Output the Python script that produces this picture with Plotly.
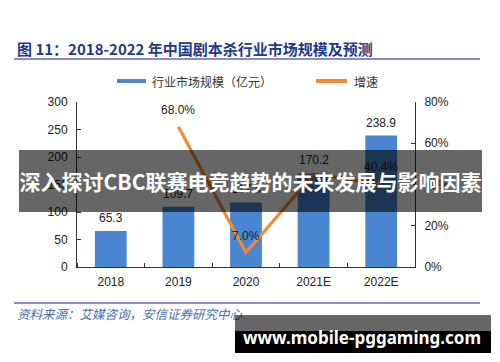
import plotly.graph_objects as go

categories = ["2018", "2019", "2020", "2021E", "2022E"]
market_size = [65.3, 109.7, 117.4, 170.2, 238.9]
growth = [None, 0.680, 0.070, 0.450, 0.404]
growth_labels = ["", "68.0%", "7.0%", "", "40.4%"]
size_ticks = [0, 50, 100, 150, 200, 250, 300]
growth_ticks = [0, 0.2, 0.4, 0.6, 0.8]
growth_tick_text = ["0%", "20%", "40%", "60%", "80%"]

title_text = "图 11：2018-2022 年中国剧本杀行业市场规模及预测"
legend_bar = "行业市场规模（亿元）"
legend_line = "增速"
source_text = "资料来源：艾媒咨询，安信证券研究中心"
banner_text = "深入探讨CBC联赛电竞趋势的未来发展与影响因素"
watermark_text = "www.mobile-pggaming.com"

xpos = list(range(len(categories)))
boundaries = [i - 0.5 for i in range(len(categories) + 1)]

BAR = "#4A85D1"
LINE = "#F28A2E"
OFF = 8  # page body margin
W, H = 500 - OFF, 362 - OFF
L, T = 77 - OFF, 102 - OFF
R = W - (415 - OFF)
B = H - (267 - OFF)
PW, PH = W - L - R, H - T - B


def fx(px):
    return (px - OFF - L) / PW


def fy(py):
    return (H - B - (py - OFF)) / PH


CJK = "Noto Sans CJK SC"
NUM = "Liberation Sans, Arial"

fig = go.Figure()
fig.add_trace(go.Bar(x=xpos, y=market_size, marker=dict(color=BAR, line=dict(width=0)),
                     name=legend_bar, yaxis="y"))
fig.add_trace(go.Scatter(x=xpos, y=growth, mode="lines", line=dict(color=LINE, width=3),
                         name=legend_line, yaxis="y2"))

ann = []
ann.append(dict(x=fx(15), y=fy(49), xref="paper", yref="paper", xanchor="left", yanchor="middle",
                text=title_text, showarrow=False,
                font=dict(family=CJK, size=15, color="#1F3A87", weight=700)))
ann.append(dict(x=fx(150), y=fy(81), xref="paper", yref="paper", xanchor="left", yanchor="middle",
                text=legend_bar, showarrow=False, font=dict(family=CJK, size=12, color="#333333")))
ann.append(dict(x=fx(352), y=fy(81), xref="paper", yref="paper", xanchor="left", yanchor="middle",
                text=legend_line, showarrow=False, font=dict(family=CJK, size=12, color="#333333")))
ann.append(dict(x=fx(15), y=fy(313), xref="paper", yref="paper", xanchor="left", yanchor="middle",
                text=source_text, showarrow=False,
                font=dict(family=CJK, size=12.5, color="#4A6EB0", style="italic")))
for xi, v in zip(xpos, market_size):
    ann.append(dict(x=xi, y=v, xref="x", yref="y", yshift=13, xanchor="center", yanchor="middle",
                    text=f"{v:.1f}", showarrow=False, font=dict(family=NUM, size=12, color="#222222")))
for xi, g, t in zip(xpos, growth, growth_labels):
    if g is None or not t:
        continue
    ann.append(dict(x=xi, y=g, xref="x", yref="y2", yshift=17, xanchor="center", yanchor="middle",
                    text=t, showarrow=False, font=dict(family=NUM, size=12, color="#222222")))
ann.append(dict(x=fx(250.5), y=fy(181), xref="paper", yref="paper", xanchor="center", yanchor="middle",
                width=463, height=62, bgcolor="rgba(0,0,0,0.6)", borderpad=0, borderwidth=0,
                text=banner_text, showarrow=False,
                font=dict(family=CJK, size=21, color="#FFFFFF", weight=700)))
ann.append(dict(x=fx(363), y=fy(323), xref="paper", yref="paper", xanchor="center", yanchor="middle",
                width=256, height=16, bgcolor="rgba(0,0,0,0.6)", borderpad=0, borderwidth=0,
                text=" ", showarrow=False, font=dict(size=4)))
ann.append(dict(x=fx(363), y=fy(342), xref="paper", yref="paper", xanchor="center", yanchor="middle",
                width=256, height=22, bgcolor="#000000", borderpad=0, borderwidth=0,
                text=" ", showarrow=False, font=dict(size=4)))
ann.append(dict(x=fx(362), y=fy(337), xref="paper", yref="paper", xanchor="center", yanchor="middle",
                text=watermark_text, showarrow=False,
                font=dict(family="Noto Sans", size=17, color="#FFFFFF", weight=700)))

shapes = [
    dict(type="line", xref="paper", yref="paper", x0=fx(14), x1=fx(480), y0=fy(59), y1=fy(59),
         line=dict(color="#8E8BC2", width=2)),
    dict(type="line", xref="paper", yref="paper", x0=fx(14), x1=fx(480), y0=fy(303), y1=fy(303),
         line=dict(color="#8E8BC2", width=2)),
    dict(type="line", xref="paper", yref="paper", x0=fx(117), x1=fx(146), y0=fy(81), y1=fy(81),
         line=dict(color=BAR, width=4)),
    dict(type="line", xref="paper", yref="paper", x0=fx(316), x1=fx(347), y0=fy(81), y1=fy(81),
         line=dict(color=LINE, width=4)),
]

fig.update_layout(
    width=W, height=H, margin=dict(l=L, r=R, t=T, b=B),
    paper_bgcolor="white", plot_bgcolor="white", showlegend=False, bargap=0.53,
    annotations=ann, shapes=shapes,
    xaxis=dict(range=[-0.5, len(categories) - 0.5], tickvals=xpos, ticktext=categories,
               showline=True, linecolor="#333333", linewidth=1, ticks="", showgrid=False,
               zeroline=False, ticklabelstandoff=4,
               minor=dict(tickvals=boundaries, ticks="inside", ticklen=4, tickcolor="#333333",
                          showgrid=False),
               tickfont=dict(family=NUM, size=12, color="#222222")),
    yaxis=dict(range=[0, 300], tickvals=size_ticks, showline=True, linecolor="#333333", linewidth=1,
               ticks="inside", ticklen=4, tickcolor="#333333", showgrid=False, zeroline=False,
               ticklabelstandoff=6, tickfont=dict(family=NUM, size=12, color="#222222")),
    yaxis2=dict(range=[0, 0.8], tickvals=growth_ticks, ticktext=growth_tick_text, overlaying="y",
                side="right", showline=True, linecolor="#333333", linewidth=1, ticks="inside",
                ticklen=4, tickcolor="#333333", showgrid=False, zeroline=False,
                ticklabelstandoff=6, tickfont=dict(family=NUM, size=12, color="#222222")),
)

fig.write_html("out.html")
